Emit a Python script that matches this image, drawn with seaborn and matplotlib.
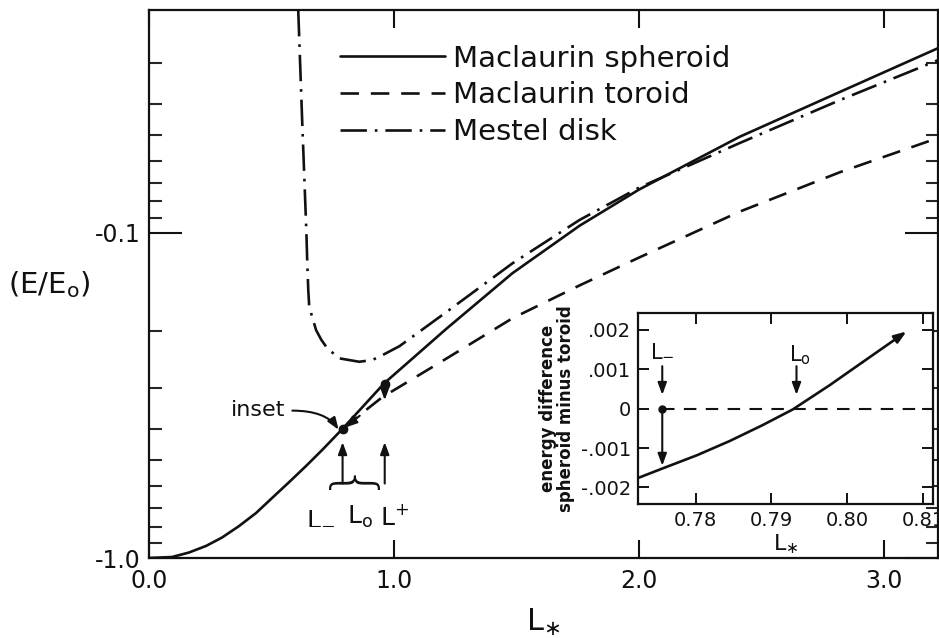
import numpy as np
import pandas as pd
import matplotlib
matplotlib.use("Agg")
import matplotlib.pyplot as plt
import seaborn as sns
from matplotlib.ticker import FixedLocator, FixedFormatter, NullFormatter

# ---------------- data ----------------
# main panel: L_* versus -(E/E0)  (plotted on a log axis, labelled negative)
spheroid_L = [0.0, 0.094, 0.163, 0.233, 0.298, 0.367, 0.437, 0.502, 0.572, 0.641,
              0.707, 0.789, 0.960, 1.214, 1.483, 1.757, 2.000, 2.410, 2.820, 3.220]
spheroid_E = [1.0, 0.993, 0.962, 0.918, 0.865, 0.798, 0.727, 0.654, 0.584, 0.521,
              0.465, 0.401, 0.290, 0.197, 0.133, 0.095, 0.0735, 0.0506, 0.0368, 0.0270]

toroid_L = [0.790, 0.850, 0.952, 1.200, 1.483, 1.757, 2.000, 2.410, 2.820, 3.220]
toroid_E = [0.400, 0.368, 0.320, 0.247, 0.183, 0.145, 0.119, 0.086, 0.065, 0.051]

mestel_L = [0.609, 0.625, 0.642, 0.646, 0.650, 0.654, 0.682, 0.703, 0.727, 0.776,
            0.858, 0.911, 0.960, 1.022, 1.214, 1.483, 1.757, 2.000, 2.410,
            2.820, 3.220]
mestel_E = [0.0206, 0.0449, 0.098, 0.124, 0.150, 0.169, 0.199, 0.213, 0.226, 0.243,
            0.249, 0.246, 0.236, 0.223, 0.175, 0.124, 0.0912, 0.0725, 0.0529,
            0.0390, 0.0294]

series_names = ["Maclaurin spheroid", "Maclaurin toroid", "Mestel disk"]

# marked points on the spheroid sequence (L_0 and L^+)
key_L = [0.790, 0.962]
key_E = [0.401, 0.292]

main_xticks = [0.0, 1.0, 2.0, 3.0]
main_xticklabels = ["0.0", "1.0", "2.0", "3.0"]
main_yticks = [1.0, 0.1]
main_yticklabels = ["-1.0", "-0.1"]
main_yminor = [0.9, 0.8, 0.7, 0.6, 0.5, 0.4, 0.3, 0.2,
               0.09, 0.08, 0.07, 0.06, 0.05, 0.04, 0.03]

# inset: energy difference spheroid minus toroid
inset_L = [0.7724, 0.7756, 0.7802, 0.7845, 0.7888, 0.7928, 0.7977, 0.8020, 0.8078]
inset_dE = [-0.00176, -0.00152, -0.00118, -0.00082, -0.00042, -0.00002, 0.00060,
            0.00118, 0.00196]
inset_L_minus = 0.7756
inset_L_zero = 0.7933
inset_xticks = [0.78, 0.79, 0.80, 0.81]
inset_xticklabels = ["0.78", "0.79", "0.80", "0.81"]
inset_yticks = [0.002, 0.001, 0.0, -0.001, -0.002]
inset_yticklabels = [".002", ".001", "0", "-.001", "-.002"]

# ---------------- style ----------------
sns.set_theme(style="ticks")
plt.rcParams["font.family"] = ["DejaVu Sans"]
plt.rcParams["mathtext.fontset"] = "dejavusans"
INK = "#111111"

fig = plt.figure(figsize=(9.39, 6.38), dpi=100)
fig.patch.set_facecolor("white")
ax = fig.add_axes([149 / 939, 1 - 558 / 638, (938 - 149) / 939, (558 - 10) / 638])
ax.set_facecolor("white")

df_s = pd.DataFrame({"L": spheroid_L, "E": spheroid_E})
df_t = pd.DataFrame({"L": toroid_L, "E": toroid_E})
df_m = pd.DataFrame({"L": mestel_L, "E": mestel_E})

lw = 1.9
sns.lineplot(data=df_s, x="L", y="E", ax=ax, color=INK, lw=lw, estimator=None,
             sort=False, label=series_names[0])
sns.lineplot(data=df_t, x="L", y="E", ax=ax, color=INK, lw=lw, estimator=None,
             sort=False, label=series_names[1], linestyle=(0, (7, 4.5)))
sns.lineplot(data=df_m, x="L", y="E", ax=ax, color=INK, lw=lw, estimator=None,
             sort=False, label=series_names[2], linestyle=(0, (10, 3, 1, 3)))

ax.set_yscale("log")
ax.set_xlim(0.0, 3.22)
ax.set_ylim(1.0, 0.0206)

ax.xaxis.set_major_locator(FixedLocator(main_xticks))
ax.xaxis.set_major_formatter(FixedFormatter(main_xticklabels))
ax.yaxis.set_major_locator(FixedLocator(main_yticks))
ax.yaxis.set_major_formatter(FixedFormatter(main_yticklabels))
ax.yaxis.set_minor_locator(FixedLocator(main_yminor))
ax.yaxis.set_minor_formatter(NullFormatter())
ax.xaxis.set_minor_locator(FixedLocator([]))

ax.tick_params(axis="x", which="major", direction="in", length=13, width=1.5,
               top=True, bottom=True, labelsize=17, pad=8, colors=INK)
ax.tick_params(axis="y", which="major", direction="in", length=24, width=1.5,
               left=True, right=True, labelsize=17, pad=6, colors=INK)
ax.tick_params(axis="y", which="minor", direction="in", length=9, width=1.5,
               left=True, right=True)
for s in ax.spines.values():
    s.set_linewidth(1.6)
    s.set_color(INK)

ax.set_xlabel(r"L$_{\ast}$", fontsize=22, labelpad=10, color=INK)
ax.set_ylabel("")
fig.text(8 / 939, 1 - 285 / 638, r"(E/E$_\mathrm{o}$)", fontsize=21, va="center",
         ha="left", color=INK)

leg = ax.legend(loc="upper left", bbox_to_anchor=(0.242, 0.937), frameon=False,
                fontsize=21, handlelength=3.6, handletextpad=0.27, labelspacing=0.3,
                borderpad=0.0, borderaxespad=0.0)
for t in leg.get_texts():
    t.set_color(INK)

# marked points & arrows in the main panel
ax.plot(key_L, key_E, "o", color=INK, ms=6, zorder=5)
arrow_kw = dict(arrowstyle="-|>,head_length=0.6,head_width=0.22", color=INK, lw=1.5,
                shrinkA=0, shrinkB=0)
for L in key_L:
    ax.annotate("", xy=(L, 0.44), xytext=(L, 0.59), arrowprops=arrow_kw)
ax.annotate("", xy=(key_L[1], 0.327), xytext=(key_L[1], key_E[1]), arrowprops=arrow_kw)
ax.annotate("", xy=(0.80, 0.397), xytext=(0.86, 0.365), arrowprops=arrow_kw)
ax.text(0.335, 0.35, "inset", fontsize=16, va="center", ha="left", color=INK)
ax.annotate("", xy=(0.78, 0.41), xytext=(0.585, 0.352),
            arrowprops=dict(arrowstyle="-|>,head_length=0.6,head_width=0.22", color=INK,
                            lw=1.5, shrinkA=0, shrinkB=2,
                            connectionstyle="angle3,angleA=0,angleB=-60"))
ax.text(0.79, 0.625, "{", rotation=-90, fontsize=40, ha="center", va="center",
        color=INK, fontweight="light")
ax.text(0.698, 0.75, r"L$_{-}$", fontsize=18, ha="center", va="center", color=INK)
ax.text(0.862, 0.75, r"L$_\mathrm{o}$", fontsize=18, ha="center", va="center", color=INK)
ax.text(1.0, 0.75, r"L$^{+}$", fontsize=18, ha="center", va="center", color=INK)

# ---------------- inset ----------------
axi = fig.add_axes([638 / 939, 1 - 504 / 638, (933 - 638) / 939, (504 - 313) / 638])
axi.set_facecolor("white")
df_i = pd.DataFrame({"L": inset_L, "dE": inset_dE})
sns.lineplot(data=df_i.iloc[:-1], x="L", y="dE", ax=axi, color=INK, lw=1.9,
             estimator=None, sort=False)
axi.annotate("", xy=(inset_L[-1], inset_dE[-1]), xytext=(inset_L[-2], inset_dE[-2]),
             arrowprops=dict(arrowstyle="-|>,head_length=0.6,head_width=0.22",
                             color=INK, lw=1.9, shrinkA=0, shrinkB=0))
axi.plot([inset_L_minus, 0.8113], [0.0, 0.0], color=INK, lw=1.5,
         linestyle=(0, (6, 4.5)))
axi.plot([inset_L_minus], [0.0], "o", color=INK, ms=5)
axi.annotate("", xy=(inset_L_minus, 0.00035), xytext=(inset_L_minus, 0.00108),
             arrowprops=arrow_kw)
axi.annotate("", xy=(inset_L_minus, -0.00145), xytext=(inset_L_minus, 0.0),
             arrowprops=arrow_kw)
axi.annotate("", xy=(inset_L_zero, 0.00035), xytext=(inset_L_zero, 0.00108),
             arrowprops=arrow_kw)
axi.text(inset_L_minus, 0.00148, r"L$_{-}$", fontsize=15, ha="center", va="center",
         color=INK)
axi.text(inset_L_zero + 0.0005, 0.00135, r"L$_\mathrm{o}$", fontsize=15, ha="center",
         va="center", color=INK)

axi.set_xlim(0.7724, 0.8113)
axi.set_ylim(-0.00242, 0.00243)
axi.xaxis.set_major_locator(FixedLocator(inset_xticks))
axi.xaxis.set_major_formatter(FixedFormatter(inset_xticklabels))
axi.yaxis.set_major_locator(FixedLocator(inset_yticks))
axi.yaxis.set_major_formatter(FixedFormatter(inset_yticklabels))
axi.tick_params(axis="both", direction="in", length=8, width=1.4, labelsize=14,
                colors=INK, top=True, right=True, pad=5)
for s in axi.spines.values():
    s.set_linewidth(1.6)
    s.set_color(INK)
axi.set_xlabel(r"L$_{\ast}$", fontsize=16, labelpad=2, color=INK)
axi.set_ylabel("energy difference\nspheroid minus toroid", fontsize=12,
               fontweight="semibold", labelpad=4, color=INK, linespacing=1.0)

fig.savefig("out.png", dpi=100, facecolor="white")
